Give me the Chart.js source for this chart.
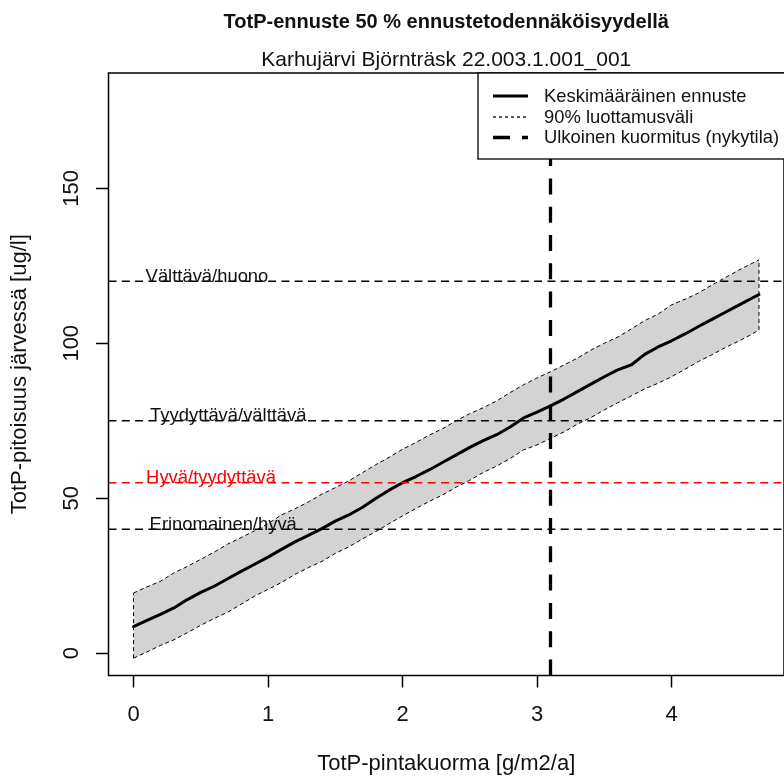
<!DOCTYPE html>
<html>
<head>
<meta charset="utf-8">
<script src="https://cdn.jsdelivr.net/npm/chart.js@4.4.1/dist/chart.umd.min.js"></script>
<style>
  html, body { margin: 0; padding: 0; background: #ffffff; }
  #wrap { width: 784px; height: 778px; }
</style>
</head>
<body>
<div id="wrap"><canvas id="c" width="784" height="778"></canvas></div>
<script>
// Phosphorus surface load [g/m2/a]
const load = [0, 0.1, 0.2, 0.3, 0.4, 0.5, 0.6, 0.7, 0.8, 0.9,
  1.0, 1.1, 1.2, 1.3, 1.4, 1.5, 1.6, 1.7, 1.8, 1.9,
  2.0, 2.1, 2.2, 2.3, 2.4, 2.5, 2.6, 2.7, 2.8, 2.9,
  3.0, 3.1, 3.2, 3.3, 3.4, 3.5, 3.6, 3.7, 3.8, 3.9,
  4.0, 4.1, 4.2, 4.3, 4.4, 4.5, 4.6, 4.65];

// Mean forecast of lake TotP [ug/l]
const meanTotP = [8.6, 10.6, 12.5, 14.6, 17.3, 19.6, 21.6, 24.0, 26.4, 28.7,
  31.0, 33.5, 35.9, 38.0, 40.2, 42.6, 44.6, 47.0, 49.9, 52.6,
  55.0, 57.0, 59.2, 61.6, 64.0, 66.4, 68.6, 70.5, 73.0, 75.9,
  77.8, 79.8, 82.0, 84.4, 86.8, 89.2, 91.4, 93.0, 96.4, 98.8,
  100.8, 103.0, 105.4, 107.7, 110.0, 112.3, 114.6, 115.7];

// 90 % confidence interval, upper and lower limits
const upperTotP = [19.4, 21.4, 23.2, 25.9, 28.0, 30.3, 32.6, 35.2, 37.3, 39.5,
  41.8, 44.6, 46.6, 48.8, 51.3, 53.4, 55.6, 58.2, 60.8, 63.2,
  65.8, 68.0, 70.4, 72.5, 75.0, 77.3, 79.2, 81.4, 84.1, 86.6,
  88.8, 90.8, 93.0, 95.2, 97.8, 100.0, 102.0, 104.6, 107.3, 109.4,
  112.4, 114.2, 116.2, 118.8, 121.2, 123.6, 125.8, 126.9];
const lowerTotP = [-1.6, 0.4, 2.5, 4.3, 6.6, 9.0, 11.2, 13.2, 15.8, 18.4,
  20.6, 22.8, 25.4, 27.6, 29.6, 32.2, 34.3, 36.8, 39.2, 41.8,
  44.3, 46.7, 49.0, 51.1, 53.6, 55.8, 58.3, 60.4, 62.8, 65.6,
  67.2, 69.3, 71.4, 73.9, 76.0, 78.5, 80.8, 83.0, 85.3, 87.1,
  89.2, 91.6, 94.1, 96.3, 98.6, 100.7, 103.0, 104.3];

// Ecological class boundaries
const thresholdValues = [120, 75, 55, 40];
const thresholdLabels = ['Välttävä/huono', 'Tyydyttävä/välttävä', 'Hyvä/tyydyttävä', 'Erinomainen/hyvä'];
const thresholdColors = ['#000000', '#000000', '#ff0000', '#000000'];

// Present external load
const currentLoad = 3.1;

// Axis ranges and ticks
const xRange = [-0.186, 4.836];
const yRange = [-7.2, 187.2];
const xTicks = [0, 1, 2, 3, 4];
const yTicks = [0, 50, 100, 150];

const legendLabels = ['Keskimääräinen ennuste', '90% luottamusväli', 'Ulkoinen kuormitus (nykytila)'];

const FONT = "'Liberation Sans', Arial, Helvetica, sans-serif";

const pts = (xs, ys) => xs.map((x, i) => ({ x: x, y: ys[i] }));
const last = load.length - 1;

const datasets = [];
// confidence band
datasets.push({
  data: pts(load, upperTotP), borderColor: '#000', borderWidth: 1, borderDash: [4, 3],
  backgroundColor: '#d3d3d3', fill: 1, order: 6
});
datasets.push({
  data: pts(load, lowerTotP), borderColor: '#000', borderWidth: 1, borderDash: [4, 3],
  fill: false, order: 6
});
datasets.push({
  data: [{ x: load[0], y: lowerTotP[0] }, { x: load[0], y: upperTotP[0] }],
  borderColor: '#000', borderWidth: 1, borderDash: [4, 3], fill: false, order: 6
});
datasets.push({
  data: [{ x: load[last], y: lowerTotP[last] }, { x: load[last], y: upperTotP[last] }],
  borderColor: '#000', borderWidth: 1, borderDash: [4, 3], fill: false, order: 6
});
// mean forecast
datasets.push({
  data: pts(load, meanTotP), borderColor: '#000', borderWidth: 3, fill: false, order: 4,
  borderCapStyle: 'round', borderJoinStyle: 'round'
});
// class boundaries
thresholdValues.forEach((v, i) => {
  datasets.push({
    data: [{ x: xRange[0], y: v }, { x: xRange[1], y: v }],
    borderColor: thresholdColors[i], borderWidth: 1.6, borderDash: [8, 5.3], fill: false, order: 3
  });
});
// present load
datasets.push({
  data: [{ x: currentLoad, y: yRange[0] }, { x: currentLoad, y: yRange[1] }],
  borderColor: '#000', borderWidth: 3.3, borderDash: [16, 12.3], fill: false, order: 1
});

const decorPlugin = {
  id: 'decor',
  afterDatasetsDraw(chart) {
    const ctx = chart.ctx;
    const a = chart.chartArea;
    const xs = chart.scales.x, ys = chart.scales.y;
    ctx.save();
    // class boundary labels
    ctx.font = '18.4px ' + FONT;
    ctx.textAlign = 'left';
    ctx.textBaseline = 'alphabetic';
    const shift = [0, 4.5, 0.5, 4];
    thresholdValues.forEach((v, i) => {
      ctx.fillStyle = thresholdColors[i] === '#ff0000' ? '#ff0000' : '#111';
      ctx.fillText(thresholdLabels[i], xs.getPixelForValue(0.09) + shift[i], ys.getPixelForValue(v) + 0.5);
    });
    // plot frame
    ctx.strokeStyle = '#000';
    ctx.lineWidth = 1.5;
    ctx.strokeRect(a.left, a.top, a.right - a.left, a.bottom - a.top);
    // legend
    const lx = 478, ly = a.top, lw = 320, lh = 86;
    ctx.fillStyle = '#fff';
    ctx.fillRect(lx, ly, lw, lh);
    ctx.lineWidth = 1.3;
    ctx.strokeRect(lx, ly, lw, lh);
    const rows = [96, 117, 137.5];
    const styles = [
      { w: 3, dash: [] },
      { w: 1.3, dash: [3, 3] },
      { w: 3.3, dash: [17, 12] }
    ];
    rows.forEach((ry, i) => {
      ctx.beginPath();
      ctx.lineWidth = styles[i].w;
      ctx.setLineDash(styles[i].dash);
      ctx.moveTo(493, ry);
      ctx.lineTo(528, ry);
      ctx.stroke();
      ctx.setLineDash([]);
      ctx.fillStyle = '#111';
      ctx.font = '18.4px ' + FONT;
      ctx.textBaseline = 'middle';
      ctx.fillText(legendLabels[i], 544, ry + 0.5);
    });
    ctx.restore();
  }
};

new Chart(document.getElementById('c'), {
  type: 'scatter',
  data: { datasets: datasets },
  options: {
    responsive: false,
    animation: false,
    devicePixelRatio: 1,
    layout: { padding: { left: 0, right: -2, top: 0, bottom: 0 } },
    elements: {
      point: { radius: 0, hoverRadius: 0 },
      line: { tension: 0 }
    },
    datasets: { scatter: { showLine: true } },
    plugins: {
      legend: { display: false },
      tooltip: { enabled: false },
      filler: { drawTime: 'beforeDatasetsDraw' },
      title: {
        display: true, fullSize: false,
        text: 'TotP-ennuste 50 % ennustetodennäköisyydellä',
        color: '#111',
        font: { family: FONT, size: 20, weight: 'bold', lineHeight: 1.2 },
        padding: { top: 10, bottom: 6 }
      },
      subtitle: {
        display: true, fullSize: false,
        text: 'Karhujärvi Björnträsk 22.003.1.001_001',
        color: '#111',
        font: { family: FONT, size: 21, lineHeight: 1.2 },
        padding: { top: 7.4, bottom: 0.4 }
      }
    },
    scales: {
      x: {
        type: 'linear', position: 'bottom',
        min: xRange[0], max: xRange[1],
        afterBuildTicks: (s) => { s.ticks = xTicks.map(v => ({ value: v })); },
        afterFit: (s) => { s.height = 102.5; },
        border: { display: false },
        grid: { drawOnChartArea: false, drawTicks: true, tickLength: 12, tickColor: '#000', tickWidth: 1.5 },
        ticks: { color: '#111', font: { family: FONT, size: 22 }, padding: 14, maxRotation: 0, minRotation: 0 },
        title: {
          display: true, text: 'TotP-pintakuorma [g/m2/a]', color: '#111',
          font: { family: FONT, size: 22, lineHeight: 1.2 }, padding: { top: 0, bottom: 1 }
        }
      },
      y: {
        type: 'linear', position: 'left',
        min: yRange[0], max: yRange[1],
        afterBuildTicks: (s) => { s.ticks = yTicks.map(v => ({ value: v })); },
        afterFit: (s) => { s.width = 108.5; },
        border: { display: false },
        grid: { drawOnChartArea: false, drawTicks: true, tickLength: 12.5, tickColor: '#000', tickWidth: 1.5 },
        ticks: { color: '#111', font: { family: FONT, size: 22 }, padding: 6, minRotation: 90, maxRotation: 90, crossAlign: 'center' },
        title: {
          display: true, text: 'TotP-pitoisuus järvessä [ug/l]', color: '#111',
          font: { family: FONT, size: 22, lineHeight: 1.2 }, padding: { top: 7.2, bottom: 0 }
        }
      }
    }
  },
  plugins: [decorPlugin]
});
</script>
</body>
</html>
